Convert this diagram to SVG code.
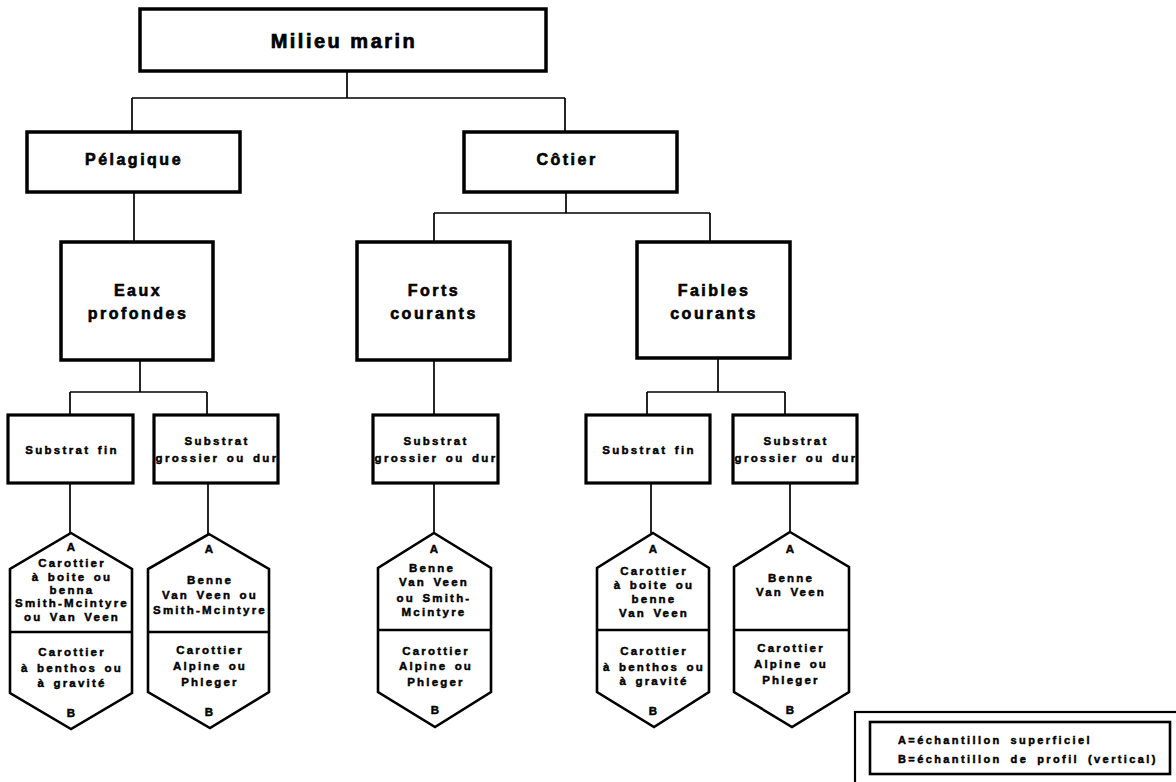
<svg xmlns="http://www.w3.org/2000/svg" width="1176" height="782" viewBox="0 0 1176 782">
  <style>
    text { font-family: "Liberation Sans", Arial, Helvetica, sans-serif; font-weight: bold; fill: #000; stroke: #000; stroke-width: 0.45px; text-anchor: middle; }
    .t1 { font-size: 20px; letter-spacing: 2.5px; stroke-width: 0.7px; }
    .t2 { font-size: 16px; letter-spacing: 2.5px; stroke-width: 0.6px; }
    .t3 { font-size: 11.5px; letter-spacing: 2.3px; word-spacing: 2px; }
    .t4 { font-size: 11.5px; letter-spacing: 2.2px; word-spacing: 2px; }
    .lg { font-size: 11px; letter-spacing: 2.4px; word-spacing: 3.5px; text-anchor: start; }
    .box { fill: #fff; stroke: #000; stroke-width: 3.5; }
    .sub { fill: #fff; stroke: #000; stroke-width: 3.2; }
    .hex { fill: #fff; stroke: #000; stroke-width: 2.6; stroke-linejoin: miter; }
    .div { stroke: #000; stroke-width: 2.4; }
    .conn { fill: none; stroke: #000; stroke-width: 1.7; }
  </style>
  <rect width="1176" height="782" fill="#fff"/>

  <!-- connectors -->
  <g id="connectors" class="conn">
    <path d="M347 71 V98 M132 98 H565 M132 98 V132 M565 98 V132"/>
    <path d="M134 192 V242"/>
    <path d="M566 192 V213 M434 213 H710 M434 213 V242 M710 213 V242"/>
    <path d="M140 360 V392 M70 392 H207 M70 392 V415 M207 392 V415"/>
    <path d="M434 360 V415"/>
    <path d="M718 358 V392 M647 392 H785 M647 392 V415 M785 392 V415"/>
    <path d="M70 483 V533 M208 483 V534 M434 483 V533 M651 483 V533 M790 483 V532"/>
  </g>

  <!-- level 0 -->
  <g id="milieu-marin">
    <rect class="box" x="140" y="9" width="406" height="62"/>
    <text class="t1" x="344" y="48">Milieu marin</text>
  </g>

  <!-- level 1 -->
  <g id="pelagique">
    <rect class="box" x="27" y="132" width="213" height="60"/>
    <text class="t2" x="134" y="165">Pélagique</text>
  </g>
  <g id="cotier">
    <rect class="box" x="464" y="132" width="213" height="60"/>
    <text class="t2" x="567" y="165">Côtier</text>
  </g>

  <!-- level 2 -->
  <g id="eaux-profondes">
    <rect class="box" x="61" y="242" width="152" height="118"/>
    <text class="t2" x="138" y="296">Eaux</text>
    <text class="t2" x="138" y="319">profondes</text>
  </g>
  <g id="forts-courants">
    <rect class="box" x="357" y="242" width="153" height="118"/>
    <text class="t2" x="434" y="296">Forts</text>
    <text class="t2" x="434" y="319">courants</text>
  </g>
  <g id="faibles-courants">
    <rect class="box" x="637" y="242" width="153" height="116"/>
    <text class="t2" x="714" y="296">Faibles</text>
    <text class="t2" x="714" y="319">courants</text>
  </g>

  <!-- level 3: substrates -->
  <g id="substrat-fin-1">
    <rect class="sub" x="8" y="415" width="125" height="68"/>
    <text class="t3" x="72" y="454">Substrat fin</text>
  </g>
  <g id="substrat-grossier-1">
    <rect class="sub" x="154" y="415" width="124" height="68"/>
    <text class="t3" x="217" y="445">Substrat</text>
    <text class="t3" x="217" y="462">grossier ou dur</text>
  </g>
  <g id="substrat-grossier-2">
    <rect class="sub" x="373" y="415" width="125" height="68"/>
    <text class="t3" x="436" y="445">Substrat</text>
    <text class="t3" x="436" y="462">grossier ou dur</text>
  </g>
  <g id="substrat-fin-2">
    <rect class="sub" x="586" y="415" width="124" height="68"/>
    <text class="t3" x="649" y="454">Substrat fin</text>
  </g>
  <g id="substrat-grossier-3">
    <rect class="sub" x="733" y="415" width="124" height="68"/>
    <text class="t3" x="796" y="445">Substrat</text>
    <text class="t3" x="796" y="462">grossier ou dur</text>
  </g>

  <!-- level 4: samplers (A = surface, B = profile) -->
  <g id="echantillonneur-1">
    <polygon class="hex" points="71,533 132,569 132,693 71,729 10,693 10,569"/>
    <line class="div" x1="10" y1="632" x2="132" y2="632"/>
    <text class="t4" x="72" y="551">A</text>
    <text class="t4" x="72" y="567">Carottier</text>
    <text class="t4" x="72" y="581">à boite ou</text>
    <text class="t4" x="72" y="594">benna</text>
    <text class="t4" x="72" y="607">Smith-Mcintyre</text>
    <text class="t4" x="72" y="621">ou Van Veen</text>
    <text class="t4" x="72" y="656">Carottier</text>
    <text class="t4" x="72" y="672">à benthos ou</text>
    <text class="t4" x="72" y="687">à gravité</text>
    <text class="t4" x="72" y="717">B</text>
  </g>
  <g id="echantillonneur-2">
    <polygon class="hex" points="209,534 269,569 269,692 210,728 148,692 148,569"/>
    <line class="div" x1="148" y1="632" x2="269" y2="632"/>
    <text class="t4" x="210" y="553">A</text>
    <text class="t4" x="210" y="584">Benne</text>
    <text class="t4" x="210" y="599">Van Veen ou</text>
    <text class="t4" x="210" y="614">Smith-Mcintyre</text>
    <text class="t4" x="210" y="654">Carottier</text>
    <text class="t4" x="210" y="670">Alpine ou</text>
    <text class="t4" x="210" y="686">Phleger</text>
    <text class="t4" x="210" y="716">B</text>
  </g>
  <g id="echantillonneur-3">
    <polygon class="hex" points="434,533 491,568 491,692 435,727 378,692 378,568"/>
    <line class="div" x1="378" y1="630" x2="491" y2="630"/>
    <text class="t4" x="435" y="553">A</text>
    <text class="t4" x="432" y="572">Benne</text>
    <text class="t4" x="434" y="586">Van Veen</text>
    <text class="t4" x="434" y="602">ou Smith-</text>
    <text class="t4" x="434" y="616">Mcintyre</text>
    <text class="t4" x="436" y="655">Carottier</text>
    <text class="t4" x="436" y="670">Alpine ou</text>
    <text class="t4" x="436" y="686">Phleger</text>
    <text class="t4" x="436" y="714">B</text>
  </g>
  <g id="echantillonneur-4">
    <polygon class="hex" points="653,533 709,568 709,692 654,727 597,692 597,568"/>
    <line class="div" x1="597" y1="630" x2="709" y2="630"/>
    <text class="t4" x="654" y="553">A</text>
    <text class="t4" x="654" y="575">Carottier</text>
    <text class="t4" x="654" y="589">à boite ou</text>
    <text class="t4" x="654" y="603">benne</text>
    <text class="t4" x="654" y="617">Van Veen</text>
    <text class="t4" x="654" y="655">Carottier</text>
    <text class="t4" x="654" y="671">à benthos ou</text>
    <text class="t4" x="654" y="685">à gravité</text>
    <text class="t4" x="654" y="715">B</text>
  </g>
  <g id="echantillonneur-5">
    <polygon class="hex" points="790,532 849,567 849,692 792,727 734,692 734,567"/>
    <line class="div" x1="734" y1="630" x2="849" y2="630"/>
    <text class="t4" x="791" y="553">A</text>
    <text class="t4" x="791" y="582">Benne</text>
    <text class="t4" x="791" y="596">Van Veen</text>
    <text class="t4" x="791" y="652">Carottier</text>
    <text class="t4" x="791" y="668">Alpine ou</text>
    <text class="t4" x="791" y="684">Phleger</text>
    <text class="t4" x="791" y="714">B</text>
  </g>

  <!-- key -->
  <g id="legende">
    <rect x="855" y="712" width="340" height="100" fill="#fff" stroke="#000" stroke-width="2.2"/>
    <rect x="870" y="722" width="300" height="52" fill="#fff" stroke="#000" stroke-width="2.6"/>
    <text class="lg" x="898" y="744">A=échantillon superficiel</text>
    <text class="lg" x="898" y="763">B=échantillon de profil (vertical)</text>
  </g>
</svg>
